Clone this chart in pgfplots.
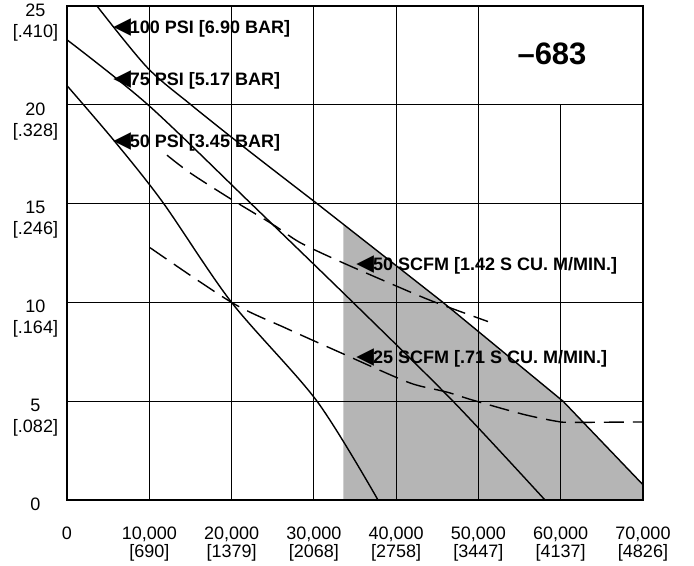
\documentclass[border=0pt]{standalone}
\usepackage{fontspec}
\setmainfont{Liberation Sans}
\newfontfamily\dejavu{DejaVu Sans}
\usepackage{pgfplots}
\pgfplotsset{compat=1.18}
\definecolor{shade}{HTML}{B5B5B5}
\begin{document}
\begin{tikzpicture}
\begin{axis}[
  scale only axis, width=576bp, height=494bp,
  xmin=0, xmax=70000, ymin=0, ymax=25,
  axis line style={line width=1.8bp},
  major tick length=0pt,
  scaled x ticks=false, scaled y ticks=false,
  xtick={0,10000,20000,30000,40000,50000,60000,70000},
  xticklabels={{0},{10,000\\{[690]}},{20,000\\{[1379]}},{30,000\\{[2068]}},{40,000\\{[2758]}},{50,000\\{[3447]}},{60,000\\{[4137]}},{70,000\\{[4826]}}},
  ytick={0,5,10,15,20,25},
  yticklabels={{0},{5\\{[.082]}},{10\\{[.164]}},{15\\{[.246]}},{20\\{[.328]}},{25\\{[.410]}}},
  xticklabel style={align=center, anchor=north, inner sep=0pt, yshift=-27bp, font=\fontsize{18bp}{18bp}\selectfont},
  yticklabel style={align=center, anchor=north, inner sep=0pt, xshift=-31.5bp, yshift=2.5bp, font=\fontsize{18bp}{21bp}\selectfont},
  clip=false,
  axis on top,
]
% shaded operating region under 100 PSI curve
\addplot[fill=shade, draw=none] coordinates {
 (33600,0) (33600,13.95) (45695,10) (60279,5) (70000,0.77) (70000,0)
} -- cycle;
% grid
\pgfplotsinvokeforeach{5,10,15,20}{\draw[line width=1.2bp] (axis cs:0,#1) -- (axis cs:70000,#1);}
\pgfplotsinvokeforeach{10000,20000,30000,40000,50000}{\draw[line width=1.2bp] (axis cs:#1,0) -- (axis cs:#1,25);}
\draw[line width=1.2bp] (axis cs:60000,0) -- (axis cs:60000,20);
\tikzset{crv/.style={black, line width=1.4bp, smooth, tension=0.5}}
% 100 PSI (upper part smooth, lower part bounding the shaded region)
\addplot[crv] coordinates {
 (3646,25) (9722,21.9) (15070,20) (22000,17.7) (30383,15)
};
\addplot[black, line width=1.4bp] coordinates {
 (30383,15) (45695,10) (60279,5) (70000,0.77)
};
% 75 PSI
\addplot[crv] coordinates {
 (0,23.29) (9844,20) (22362,15) (34758,10) (46910,5) (58090,0)
};
% 50 PSI
\addplot[crv] coordinates {
 (0,20.97) (5833,18.13) (11667,15.05) (20000,10) (30383,5) (37796,0)
};
% 50 SCFM
\addplot[crv, dash pattern=on 20bp off 9bp] coordinates {
 (12153,17.45) (14948,16.56) (19810,15.26) (25035,13.94) (28317,13.03) (33178,12.07) (39619,10.9) (44480,10.05) (51164,9.03)
};
% 25 SCFM
\addplot[crv, dash pattern=on 20bp off 9bp] coordinates {
 (10087,12.77) (20000,10) (26737,8.67) (33542,7.40) (37674,6.63) (42049,5.87) (46181,5.46) (49341,5.05) (55418,4.34) (59550,3.98) (61494,3.93) (70000,3.95)
};
% labels
\tikzset{lbl/.style={anchor=west, inner sep=0pt, font=\bfseries\fontsize{18bp}{18bp}\selectfont}}
\newcommand{\tri}{{\dejavu\fontsize{23bp}{23bp}\selectfont ◀}\hspace{-1bp}}
\node[lbl] at (axis cs:5600,23.89) {\tri100 PSI [6.90 BAR]};
\node[lbl] at (axis cs:5600,21.25) {\tri75 PSI [5.17 BAR]};
\node[lbl] at (axis cs:5600,18.13) {\tri50 PSI [3.45 BAR]};
\node[lbl] at (axis cs:35150,11.91) {\tri50 SCFM [1.42 S CU. M/MIN.]};
\node[lbl] at (axis cs:35150,7.19) {\tri25 SCFM [.71 S CU. M/MIN.]};
\node[font=\bfseries\fontsize{31bp}{31bp}\selectfont, inner sep=0pt] at (axis cs:58942,22.6) {–683};
\end{axis}
\path (current axis.south west) ++(-67bp,-66bp) rectangle ++(694bp,566bp);
\end{tikzpicture}
\end{document}
